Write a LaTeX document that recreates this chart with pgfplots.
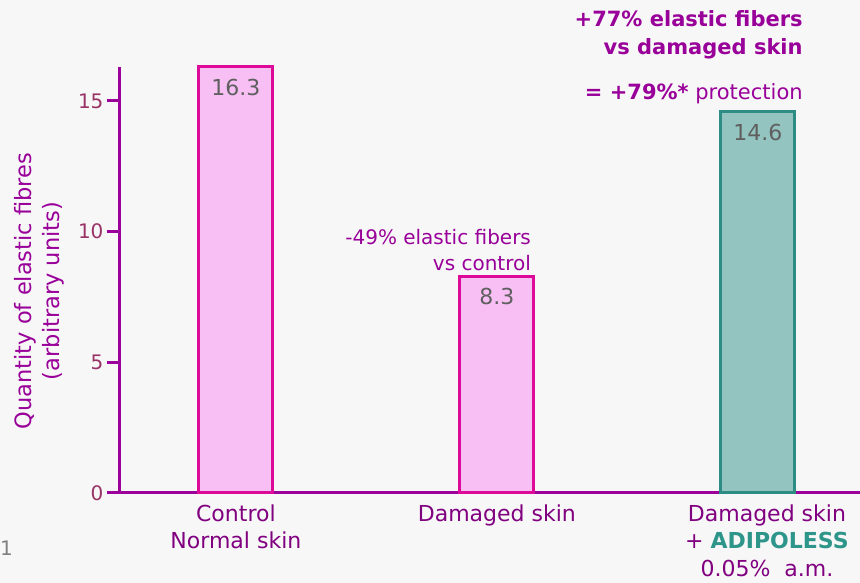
\documentclass[border=0pt]{standalone}
\usepackage{pgfplots}
\pgfplotsset{compat=1.18}
\usepackage{fontspec}
\setmainfont{DejaVu Sans}
\usetikzlibrary{backgrounds}
\definecolor{bgc}{HTML}{F7F7F7}
\definecolor{axc}{HTML}{9B009B}
\definecolor{tickc}{HTML}{993366}
\definecolor{xlab}{HTML}{800080}
\definecolor{annc}{HTML}{990099}
\definecolor{pinkfill}{HTML}{F8BFF5}
\definecolor{pinkdraw}{HTML}{DD0A99}
\definecolor{tealfill}{HTML}{93C4C0}
\definecolor{tealdraw}{HTML}{2D8C84}
\definecolor{adip}{HTML}{2E958A}
\definecolor{valc}{HTML}{5F5F5F}
\begin{document}
\begin{tikzpicture}
\begin{axis}[
  scale only axis, width=740pt, height=426pt,
  xmin=-0.444, xmax=2.391, ymin=0, ymax=16.3,
  axis x line=bottom, axis y line=left,
  axis line style={-, line width=3pt, draw=axc},
  ytick={0,5,10,15}, xtick={0,1,2},
  xticklabels={{Control\\Normal skin},{Damaged skin},{\hspace*{18pt}Damaged skin\\\hspace*{18pt}+ \textcolor{adip}{\textbf{ADIPOLESS}}\\\hspace*{18pt}0.05\%\ \ a.m.}},
  xticklabel style={align=center, font=\fontsize{22}{27.5}\selectfont, text=xlab, yshift=5pt},
  x tick style={draw=none},
  y tick style={line width=3pt, draw=axc},
  tick align=outside, major tick length=13pt,
  yticklabel style={font=\fontsize{20}{24}\selectfont, text=tickc},
  /pgf/number format/assume math mode=true,
  ylabel={Quantity of elastic fibres\\(arbitrary units)},
  ylabel style={at={(rel axis cs:-0.1085,0.474)}, rotate=0, anchor=center, align=center, font=\fontsize{22.5}{28}\selectfont, text=annc},
  clip=false,
  nodes near coords,
  nodes near coords style={anchor=north, inner sep=0pt, yshift=-11pt, font=\fontsize{22}{26}\selectfont, text=valc, /pgf/number format/.cd, fixed, precision=1, fixed zerofill},
]
\addplot[ybar, bar shift=0pt, bar width=74pt, fill=pinkfill, draw=pinkdraw, line width=3pt] coordinates {(0,16.3) (1,8.3)};
\addplot[ybar, bar shift=0pt, bar width=74pt, fill=tealfill, draw=tealdraw, line width=3pt] coordinates {(2,14.6)};
\node[anchor=base east, inner sep=0pt, text=annc, font=\fontsize{20}{24}\selectfont] at (axis cs:1.131,9.49) {-49\% elastic fibers};
\node[anchor=base east, inner sep=0pt, text=annc, font=\fontsize{20}{24}\selectfont] at (axis cs:1.131,8.53) {vs control};
\node[anchor=base east, inner sep=0pt, text=annc, font=\fontsize{21}{25}\selectfont\bfseries] at (axis cs:2.172,17.84) {+77\% elastic fibers};
\node[anchor=base east, inner sep=0pt, text=annc, font=\fontsize{21}{25}\selectfont\bfseries] at (axis cs:2.172,16.76) {vs damaged skin};
\node[anchor=base east, inner sep=0pt, text=annc, font=\fontsize{21}{25}\selectfont] at (axis cs:2.172,15.04) {\textbf{= +79\%*} protection};
\coordinate (O) at (rel axis cs:0,0);
\end{axis}
\node[anchor=base west, inner sep=0pt, text=gray, font=\fontsize{20}{24}\selectfont] at ([shift={(-120pt,-63pt)}]O) {1};
\begin{scope}[on background layer]
\fill[bgc] ([shift={(-120pt,-90pt)}]O) rectangle ++(860pt,583pt);
\end{scope}
\pgfresetboundingbox
\path ([shift={(-120pt,-90pt)}]O) rectangle ++(860pt,583pt);
\end{tikzpicture}
\end{document}
